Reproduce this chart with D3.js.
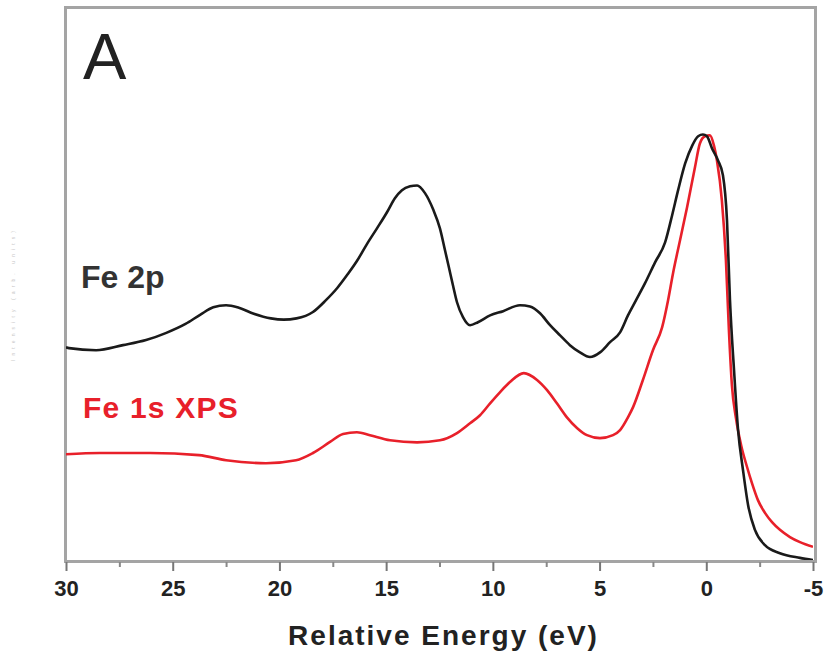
<!DOCTYPE html>
<html>
<head>
<meta charset="utf-8">
<script src="https://cdn.jsdelivr.net/npm/d3@7"></script>
<style>
  html, body { margin: 0; padding: 0; background: #fff; }
  svg { display: block; }
  text { font-family: "Liberation Sans", Arial, sans-serif; }
</style>
</head>
<body>
<svg id="chart" width="828" height="658"></svg>
<script>
// ---- data (energy in eV, normalized intensity) ----
const fe2pEnergy = [30.00, 29.86, 28.59, 27.33, 26.25, 25.30, 24.40, 23.70, 23.10, 22.50, 21.90, 21.20, 20.40, 19.80, 19.20, 18.43, 17.82, 17.30, 16.83, 16.37, 15.90, 15.43, 14.96, 14.59, 14.26, 13.88, 13.55, 13.18, 12.80, 12.48, 12.24, 12.05, 11.87, 11.68, 11.40, 11.07, 10.70, 10.13, 9.52, 8.73, 8.26, 7.79, 7.32, 6.85, 6.39, 5.92, 5.45, 4.98, 4.51, 4.04, 3.67, 3.29, 2.87, 2.40, 1.93, 1.60, 1.32, 0.99, 0.66, 0.38, 0.16, -0.03, -0.27, -0.55, -0.78, -0.97, -1.11, -1.30, -1.49, -1.72, -1.96, -2.28, -2.75, -3.45, -4.39, -5.00];
const fe2pIntensity = [0.501, 0.499, 0.494, 0.506, 0.518, 0.535, 0.556, 0.578, 0.595, 0.600, 0.594, 0.580, 0.569, 0.566, 0.569, 0.584, 0.612, 0.640, 0.671, 0.704, 0.744, 0.781, 0.819, 0.852, 0.871, 0.880, 0.882, 0.864, 0.826, 0.781, 0.729, 0.687, 0.647, 0.607, 0.572, 0.553, 0.560, 0.576, 0.586, 0.600, 0.597, 0.581, 0.553, 0.529, 0.506, 0.489, 0.478, 0.489, 0.513, 0.536, 0.576, 0.612, 0.652, 0.701, 0.748, 0.812, 0.871, 0.934, 0.976, 0.998, 1.002, 0.998, 0.969, 0.941, 0.906, 0.800, 0.612, 0.447, 0.306, 0.212, 0.129, 0.071, 0.035, 0.016, 0.005, 0.000];

const fe1sEnergy = [30.00, 28.41, 26.06, 23.77, 22.50, 20.63, 19.22, 18.43, 17.63, 17.02, 16.37, 15.76, 14.82, 13.55, 12.48, 11.68, 11.07, 10.60, 10.13, 9.67, 9.20, 8.55, 7.93, 7.46, 7.00, 6.53, 6.06, 5.59, 4.98, 4.37, 4.04, 3.67, 3.43, 2.97, 2.50, 2.07, 1.79, 1.56, 1.23, 0.90, 0.53, 0.30, 0.06, -0.17, -0.36, -0.50, -0.73, -0.92, -1.06, -1.20, -1.39, -1.63, -1.91, -2.14, -2.42, -2.75, -3.08, -3.45, -3.92, -4.39, -5.00];
const fe1sIntensity = [0.249, 0.252, 0.252, 0.247, 0.235, 0.228, 0.235, 0.252, 0.278, 0.297, 0.301, 0.294, 0.282, 0.277, 0.282, 0.299, 0.322, 0.341, 0.369, 0.395, 0.419, 0.440, 0.424, 0.400, 0.369, 0.336, 0.311, 0.294, 0.287, 0.294, 0.306, 0.336, 0.360, 0.424, 0.494, 0.548, 0.612, 0.675, 0.753, 0.831, 0.925, 0.981, 0.998, 1.000, 0.976, 0.941, 0.847, 0.706, 0.541, 0.412, 0.334, 0.271, 0.219, 0.181, 0.141, 0.111, 0.089, 0.071, 0.054, 0.042, 0.031];

const majorTicks = [30, 25, 20, 15, 10, 5, 0, -5];
const minorTicks = [27.5, 22.5, 17.5, 12.5, 7.5, 2.5, -2.5];
const seriesLabels = ["Fe 2p", "Fe 1s XPS"];
const panelLabel = "A";
const xTitle = "Relative Energy (eV)";
const yTitle = "Intensity (arb. units)";

// ---- layout ----
const svg = d3.select("#chart");
const mLeft = 66, mRight = 813, mTop = 8, mBottom = 560;

const x = d3.scaleLinear().domain([30, -5]).range([mLeft, mRight]);
const y = d3.scaleLinear().domain([0, 1.3]).range([mBottom, mTop]);

// frame
svg.append("rect")
  .attr("x", mLeft - 0.5).attr("y", mTop - 0.5)
  .attr("width", mRight - mLeft + 3).attr("height", mBottom - mTop + 2)
  .attr("fill", "none").attr("stroke", "#a4a4a4").attr("stroke-width", 3);

// x axis major ticks + labels
const axisG = svg.append("g").attr("transform", `translate(0,${mBottom + 2})`);
const ax = d3.axisBottom(x).tickValues(majorTicks).tickSize(9).tickPadding(9)
  .tickFormat(d => String(d));
axisG.call(ax);
axisG.select(".domain").remove();
axisG.selectAll(".tick line").attr("stroke", "#777").attr("stroke-width", 2);
axisG.selectAll(".tick text")
  .attr("fill", "#222")
  .style("font-size", "22px")
  .style("font-weight", "bold")
  .style("font-family", "'Liberation Sans', Arial, sans-serif");

// minor ticks
const axisMinor = svg.append("g").attr("transform", `translate(0,${mBottom + 2})`);
axisMinor.call(d3.axisBottom(x).tickValues(minorTicks).tickSize(5).tickFormat(""));
axisMinor.select(".domain").remove();
axisMinor.selectAll(".tick line").attr("stroke", "#888").attr("stroke-width", 2);

// lines (pixel x increases along the arrays, so monotoneX applies)
const line = d3.line().curve(d3.curveMonotoneX);
const fe2p = fe2pEnergy.map((e, i) => [x(e), y(fe2pIntensity[i])]);
const fe1s = fe1sEnergy.map((e, i) => [x(e), y(fe1sIntensity[i])]);

svg.append("clipPath").attr("id", "plotclip")
  .append("rect").attr("x", mLeft).attr("y", mTop).attr("width", mRight - mLeft).attr("height", mBottom - mTop);

const plot = svg.append("g").attr("clip-path", "url(#plotclip)");
plot.append("path").attr("d", line(fe1s))
  .attr("fill", "none").attr("stroke", "#e8202a").attr("stroke-width", 2.6)
  .attr("stroke-linejoin", "round");
plot.append("path").attr("d", line(fe2p))
  .attr("fill", "none").attr("stroke", "#1a1a1a").attr("stroke-width", 2.6)
  .attr("stroke-linejoin", "round");

// labels
svg.append("text").attr("x", 83).attr("y", 79)
  .attr("fill", "#222").style("font-size", "65px").text(panelLabel);

svg.append("text").attr("x", 81).attr("y", 288)
  .attr("fill", "#333").style("font-size", "32px").style("font-weight", "bold")
  .text(seriesLabels[0]);

svg.append("text").attr("x", 83).attr("y", 418)
  .attr("fill", "#e8202a").style("font-size", "30px").style("font-weight", "bold")
  .style("letter-spacing", "1.2px")
  .text(seriesLabels[1]);

svg.append("text").attr("x", (mLeft + mRight) / 2 + 4).attr("y", 645)
  .attr("text-anchor", "middle")
  .attr("fill", "#222").style("font-size", "28px").style("font-weight", "bold")
  .style("letter-spacing", "2px")
  .text(xTitle);

svg.append("text")
  .attr("transform", "translate(15,296) rotate(-90)")
  .attr("text-anchor", "middle")
  .attr("fill", "#c8c8c8").style("font-size", "5px")
  .attr("textLength", 130).attr("lengthAdjust", "spacing")
  .text(yTitle);
</script>
</body>
</html>
